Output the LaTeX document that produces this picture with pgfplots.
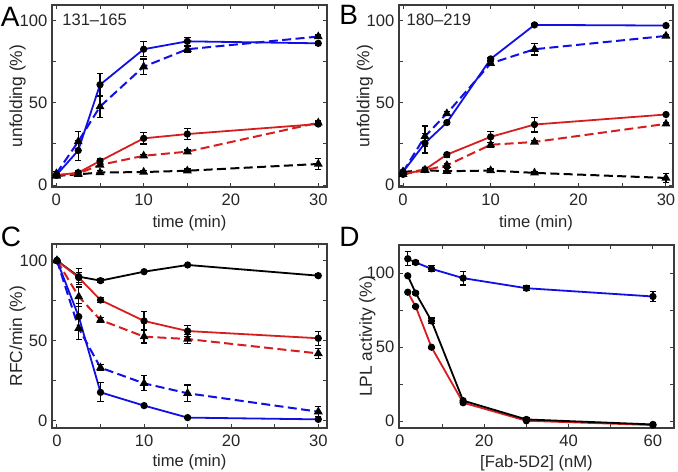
\documentclass[border=0pt]{standalone}
\usepackage{fontspec}
\setmainfont{Liberation Sans}
\usepackage{pgfplots}
\pgfplotsset{compat=1.18}
\definecolor{myblue}{RGB}{15,15,230}
\definecolor{myred}{RGB}{215,30,30}
\definecolor{framec}{RGB}{60,60,60}

\pgfplotsset{
  panel/.style={
    scale only axis,
    axis line style={framec, line width=0.6pt},
    tick style={framec, line width=0.5pt},
    tick align=inside,
    major tick length=2pt, minor tick length=2pt,
    minor x tick num=1, minor y tick num=1,
    ytick={0,50,100},
    /pgf/number format/assume math mode=true,
    tick label style={font=\fontsize{8.3}{9}\selectfont, text=black!85},
    yticklabel style={xshift=1.2pt},
    xlabel style={font=\fontsize{8.3}{9}\selectfont, text=black!85, at={(axis description cs:0.5,-0.2)}, anchor=center},
    ylabel style={font=\fontsize{8.7}{10}\selectfont, text=black!85, at={(axis description cs:-0.125,0.5)}, anchor=center},
  },
  errs/.style={error bars/.cd, y dir=both, y explicit,
    error bar style={black, line width=0.6pt, solid},
    error mark options={rotate=90, black, mark size=1.6pt, line width=0.6pt, solid}},
  sol/.style={color=#1, line width=0.9pt, solid, mark=*, mark size=1.35pt,
    mark options={black, fill=black, solid}, errs},
  dsh/.style={color=#1, line width=1pt, dash pattern=on 4.5pt off 2.2pt, mark=triangle*, mark size=1.6pt,
    mark options={black, fill=black, solid}, errs},
}

\begin{document}
\begin{tikzpicture}
\useasboundingbox (0,0) rectangle (339pt,-235.5pt);

% A
\begin{axis}[panel, at={(26pt,-93.5pt)}, anchor=south west,
  width=137.5pt, height=91pt,
  xmin=-0.5, xmax=31, ymin=-1.2, ymax=109.5,
  xtick={0,10,20,30},
  xlabel={time (min)}, ylabel={unfolding (\%)}]
\addplot[dsh=black] coordinates {(0,5.5)+-(0,1) (2.5,6.5)+-(0,1.5) (5,7.6)+-(0,1) (10,7.9)+-(0,1) (15,8.7)+-(0,1) (30,12.8)+-(0,3.5)};
\addplot[dsh=myred] coordinates {(0,6)+-(0,1) (2.5,7)+-(0,1) (5,12.2)+-(0,1) (10,17.8)+-(0,1) (15,20.3)+-(0,1) (30,37.9)+-(0,1)};
\addplot[sol=myred] coordinates {(0,6)+-(0,1) (2.5,7.5)+-(0,1) (5,14.6)+-(0,1.2) (10,28.4)+-(0,3.4) (15,31)+-(0,3.3) (30,37.1)+-(0,1)};
\addplot[dsh=myblue] coordinates {(0,7)+-(0,1) (2.5,26.4)+-(0,6) (5,47.7)+-(0,6.6) (10,72)+-(0,4.6) (15,82.6)+-(0,2) (30,90.3)+-(0,1)};
\addplot[sol=myblue] coordinates {(0,6)+-(0,1) (2.5,21)+-(0,6) (5,61)+-(0,6.9) (10,82.6)+-(0,4.6) (15,87.4)+-(0,2.5) (30,86.2)+-(0,1)};
\node[anchor=north west, inner sep=0pt, font=\fontsize{8.3}{9}\selectfont, text=black!85] at (axis description cs:0.036,0.955) {131–165};
\end{axis}

% B
\begin{axis}[panel, at={(199.5pt,-93.5pt)}, anchor=south west,
  width=137pt, height=91pt,
  xmin=-0.46, xmax=30.8, ymin=-1.2, ymax=109.5,
  xtick={0,10,20,30},
  xlabel={time (min)}, ylabel={unfolding (\%)}]
\addplot[dsh=black] coordinates {(0,8)+-(0,1) (2.5,9)+-(0,1) (5,8.4)+-(0,1.5) (10,8.8)+-(0,1) (15,7.4)+-(0,1) (30,4.3)+-(0,2.8)};
\addplot[dsh=myred] coordinates {(0,6.5)+-(0,1) (2.5,9)+-(0,1) (5,12)+-(0,1) (10,24.5)+-(0,1.5) (15,26.2)+-(0,1) (30,37.2)+-(0,1)};
\addplot[sol=myred] coordinates {(0,6.5)+-(0,1) (2.5,9.4)+-(0,1) (5,18.5)+-(0,1.5) (10,29.3)+-(0,3.5) (15,36.8)+-(0,4.5) (30,42.9)+-(0,0.5)};
\addplot[dsh=myblue] coordinates {(0,8)+-(0,1) (2.5,29.6)+-(0,6.3) (5,43.5)+-(0,1) (10,74)+-(0,1.5) (15,82.6)+-(0,3.5) (30,90.7)+-(0,1)};
\addplot[sol=myblue] coordinates {(0,8)+-(0,1) (2.5,25.5)+-(0,6) (5,38)+-(0,1) (10,76.7)+-(0,1) (15,97.4)+-(0,0.5) (30,97)+-(0,0.5)};
\node[anchor=north west, inner sep=0pt, font=\fontsize{8.3}{9}\selectfont, text=black!85] at (axis description cs:0.026,0.955) {180–219};
\end{axis}

% C
\begin{axis}[panel, at={(26pt,-214pt)}, anchor=south west,
  width=137.5pt, height=92pt,
  xmin=-0.57, xmax=31, ymin=-4.6, ymax=110.4,
  xtick={0,10,20,30},
  xlabel={time (min)}, ylabel={RFC/min (\%)},
  xlabel style={at={(axis description cs:0.5,-0.185)}}]
\addplot[sol=black] coordinates {(0,100)+-(0,0.5) (2.5,90)+-(0,5) (5,87.5)+-(0,1) (10,93.1)+-(0,0.5) (15,97.3)+-(0,0.5) (30,90.6)+-(0,1)};
\addplot[dsh=myred] coordinates {(0,100)+-(0,0.5) (2.5,77.5)+-(0,6) (5,62.9)+-(0,1.5) (10,52.5)+-(0,4) (15,51)+-(0,3) (30,42)+-(0,3.3)};
\addplot[sol=myred] coordinates {(0,100)+-(0,0.5) (2.5,89.4)+-(0,3) (5,75.4)+-(0,1.5) (10,62.3)+-(0,5.7) (15,56)+-(0,3.5) (30,51.5)+-(0,4.4)};
\addplot[dsh=myblue] coordinates {(0,100)+-(0,0.5) (2.5,57.7)+-(0,7) (5,33.1)+-(0,2) (10,23.3)+-(0,4.7) (15,17.1)+-(0,5.2) (30,5.6)+-(0,3.1)};
\addplot[sol=myblue] coordinates {(0,100)+-(0,0.5) (2.5,65)+-(0,8) (5,17.7)+-(0,5.9) (10,9.4)+-(0,0.5) (15,1.9)+-(0,0.5) (30,0.8)+-(0,0.5)};
\end{axis}

% D
\begin{axis}[panel, at={(199.5pt,-214pt)}, anchor=south west,
  width=137.5pt, height=91.5pt,
  xmin=-0.2, xmax=65, ymin=-4.7, ymax=119,
  xtick={0,20,40,60},
  xlabel={[Fab-5D2] (nM)}, ylabel={LPL activity (\%)},
  ylabel style={at={(axis description cs:-0.115,0.5)}},
  xlabel style={at={(axis description cs:0.5,-0.19)}}]
\addplot[sol=myred] coordinates {(1.875,87.1)+-(0,0.5) (3.75,77.4)+-(0,0.5) (7.5,49.9)+-(0,0.5) (15,12.4)+-(0,1) (30,0.2)+-(0,0.5) (60,-2.7)+-(0,0.5)};
\addplot[sol=black] coordinates {(1.875,98.2)+-(0,1) (3.75,86.5)+-(0,1) (7.5,67.7)+-(0,2) (15,13.8)+-(0,1) (30,1.1)+-(0,1) (60,-2.3)+-(0,1)};
\addplot[sol=myblue] coordinates {(1.875,109.7)+-(0,4.7) (3.75,107.2)+-(0,1) (7.5,102.9)+-(0,2) (15,96.6)+-(0,4.7) (30,89.8)+-(0,1.5) (60,84.2)+-(0,3.2)};
\end{axis}

% panel letters
\node[anchor=north west, inner sep=0pt, font=\fontsize{14}{14}\selectfont] at (0.3pt,-3.3pt) {A};
\node[anchor=north west, inner sep=0pt, font=\fontsize{14}{14}\selectfont] at (169.5pt,-2.5pt) {B};
\node[anchor=north west, inner sep=0pt, font=\fontsize{14}{14}\selectfont] at (0.3pt,-113.5pt) {C};
\node[anchor=north west, inner sep=0pt, font=\fontsize{14}{14}\selectfont] at (169.5pt,-113.5pt) {D};
\end{tikzpicture}
\end{document}
